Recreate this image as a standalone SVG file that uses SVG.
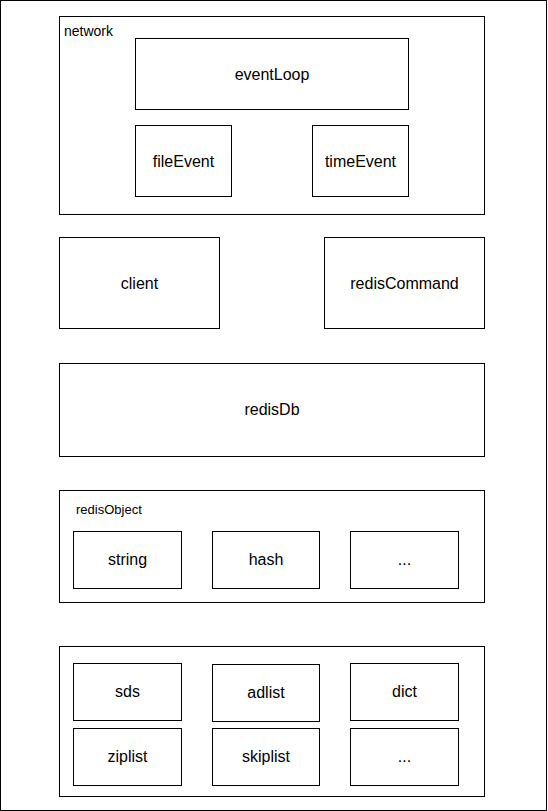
<svg xmlns="http://www.w3.org/2000/svg" width="548" height="811" viewBox="0 0 548 811">
<style>
rect{fill:#fff;stroke:#000;stroke-width:1}
text{font-family:Helvetica,"Liberation Sans",Arial,sans-serif;fill:#000}
.n{font-size:16px;text-anchor:middle}
.g{font-size:14px}
.s{font-size:13px}
</style>
<rect x="0.5" y="0.5" width="546" height="810" fill="#fff"/>
<g id="network">
<rect x="59.5" y="16.5" width="425" height="198"/>
<text class="g" x="64" y="36">network</text>
</g>
<g id="eventLoop"><rect x="135.5" y="38.5" width="273" height="71"/><text class="n" x="272" y="80">eventLoop</text></g>
<g id="fileEvent"><rect x="135.5" y="125.5" width="96" height="71"/><text class="n" x="183.5" y="167">fileEvent</text></g>
<g id="timeEvent"><rect x="312.5" y="125.5" width="96" height="71"/><text class="n" x="360.5" y="167">timeEvent</text></g>
<g id="client"><rect x="59.5" y="237.5" width="160" height="91"/><text class="n" x="139.5" y="289">client</text></g>
<g id="redisCommand"><rect x="324.5" y="237.5" width="160" height="91"/><text class="n" x="404.5" y="289">redisCommand</text></g>
<g id="redisDb"><rect x="59.5" y="363.5" width="425" height="93"/><text class="n" x="272" y="415">redisDb</text></g>
<g id="redisObject">
<rect x="59.5" y="490.5" width="425" height="112"/>
<text class="s" x="76" y="514">redisObject</text>
</g>
<g id="string"><rect x="73.5" y="531.5" width="108" height="57"/><text class="n" x="127.5" y="565">string</text></g>
<g id="hash"><rect x="212.5" y="531.5" width="107" height="57"/><text class="n" x="266" y="565">hash</text></g>
<g id="more1"><rect x="350.5" y="531.5" width="108" height="57"/><text class="n" x="404.5" y="565">...</text></g>
<g id="datastructs"><rect x="59.5" y="646.5" width="425" height="150"/></g>
<g id="sds"><rect x="73.5" y="663.5" width="108" height="57"/><text class="n" x="127.5" y="697">sds</text></g>
<g id="adlist"><rect x="212.5" y="664.5" width="107" height="57"/><text class="n" x="266" y="698">adlist</text></g>
<g id="dict"><rect x="350.5" y="663.5" width="108" height="57"/><text class="n" x="404.5" y="697">dict</text></g>
<g id="ziplist"><rect x="73.5" y="728.5" width="108" height="57"/><text class="n" x="127.5" y="762">ziplist</text></g>
<g id="skiplist"><rect x="212.5" y="728.5" width="107" height="57"/><text class="n" x="266" y="762">skiplist</text></g>
<g id="more2"><rect x="350.5" y="728.5" width="108" height="57"/><text class="n" x="404.5" y="762">...</text></g>
<g id="connectors"></g>
</svg>
